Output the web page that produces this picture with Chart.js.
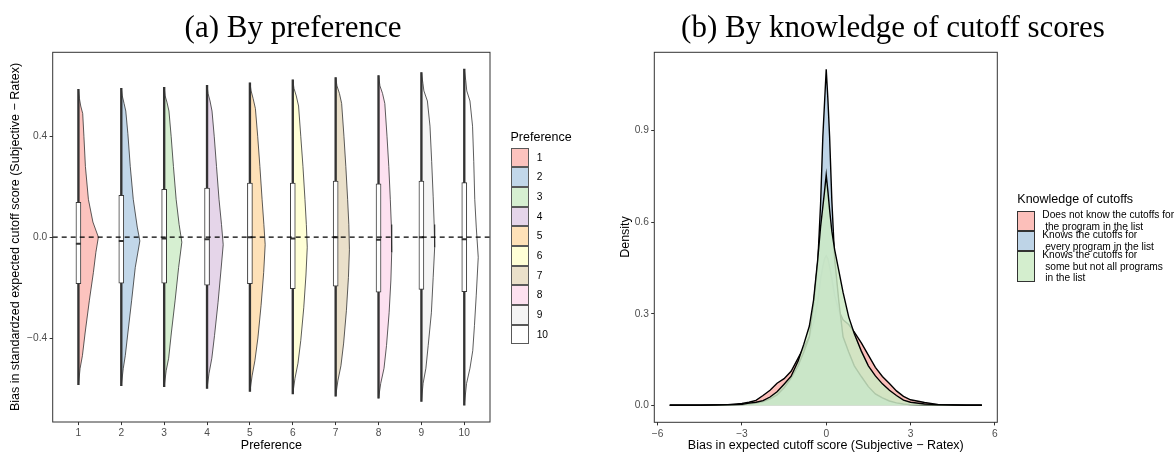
<!DOCTYPE html>
<html>
<head>
<meta charset="utf-8">
<script src="https://cdn.jsdelivr.net/npm/chart.js@4.4.1/dist/chart.umd.min.js"></script>
<style>
  body { margin: 0; background: #fff; }
  #wrap { position: relative; width: 1176px; height: 452px; overflow: hidden; font-family: "Liberation Sans", Arial, sans-serif; background: #fff; }
  canvas { position: absolute; top: 0; }
  .t { position: absolute; white-space: pre; color: #000; }
  .title { font-family: "Liberation Serif", "Times New Roman", serif; font-size: 31px; line-height: 31px; width: 600px; text-align: center; }
  .axt { font-size: 12.5px; line-height: 16px; text-align: center; }
  .lgt { font-size: 12.5px; line-height: 16px; }
  .lgl { font-size: 10.2px; }
  .sw { position: absolute; box-sizing: border-box; }
</style>
</head>
<body>
<div id="wrap">
  <canvas id="left" width="590" height="452" style="left:0px;width:590px;height:452px;"></canvas>
  <canvas id="right" width="586" height="452" style="left:590px;width:586px;height:452px;"></canvas>

  <div class="t title" style="left:-7px;top:10.7px;">(a) By preference</div>
  <div class="t title" style="left:593px;top:10.7px;">(b) By knowledge of cutoff scores</div>

  <div class="t axt" style="left:-185px;top:229px;width:400px;transform:rotate(-90deg);">Bias in standardzed expected cutoff score (Subjective − Ratex)</div>
  <div class="t axt" style="left:171.4px;top:437px;width:200px;">Preference</div>
  <div class="t axt" style="left:524.7px;top:229px;width:200px;transform:rotate(-90deg);">Density</div>
  <div class="t axt" style="left:525.8px;top:437px;width:600px;">Bias in expected cutoff score (Subjective − Ratex)</div>

  <div class="t lgt" style="left:510.5px;top:128.5px;">Preference</div>
  <div id="legLeft"></div>

  <div class="t lgt" style="left:1017.3px;top:191.3px;">Knowledge of cutoffs</div>
  <div id="legRight"></div>
</div>

<script>
// ---------------- Data: panel (a) ----------------
const prefCategories = [1, 2, 3, 4, 5, 6, 7, 8, 9, 10];
const leftYTicks = [-0.4, 0.0, 0.4];
const leftYTickLabels = ['\u22120.4', '0.0', '0.4'];

// Half-violin profiles: values (top -> bottom) and relative density at each value
const violinValues = [
  [0.586, 0.55, 0.52, 0.49, 0.40, 0.28, 0.15, 0.06, 0.0, -0.06, -0.14, -0.25, -0.38, -0.47, -0.52, -0.585],
  [0.590, 0.56, 0.53, 0.50, 0.41, 0.28, 0.15, 0.04, -0.015, -0.12, -0.25, -0.38, -0.47, -0.52, -0.589],
  [0.594, 0.56, 0.535, 0.50, 0.40, 0.28, 0.15, 0.05, -0.02, -0.12, -0.25, -0.38, -0.48, -0.53, -0.593],
  [0.602, 0.57, 0.54, 0.50, 0.40, 0.28, 0.15, 0.05, -0.03, -0.13, -0.26, -0.39, -0.48, -0.54, -0.600],
  [0.612, 0.58, 0.55, 0.51, 0.40, 0.28, 0.15, 0.05, -0.03, -0.14, -0.27, -0.40, -0.49, -0.55, -0.612],
  [0.624, 0.59, 0.56, 0.52, 0.40, 0.28, 0.15, 0.05, -0.04, -0.15, -0.28, -0.41, -0.50, -0.56, -0.622],
  [0.633, 0.60, 0.57, 0.53, 0.40, 0.28, 0.15, 0.05, -0.05, -0.16, -0.29, -0.42, -0.51, -0.57, -0.631],
  [0.641, 0.60, 0.57, 0.53, 0.40, 0.28, 0.15, 0.05, -0.06, -0.17, -0.30, -0.43, -0.52, -0.58, -0.639],
  [0.653, 0.61, 0.58, 0.54, 0.44, 0.30, 0.16, 0.05, -0.04, -0.16, -0.30, -0.43, -0.52, -0.58, -0.651],
  [0.666, 0.62, 0.58, 0.54, 0.44, 0.30, 0.15, 0.04, -0.08, -0.23, -0.35, -0.45, -0.52, -0.58, -0.666]
];
const violinDensity = [
  [0, 1.0, 2.3, 4.3, 5.5, 7.0, 10.0, 14.5, 20.0, 17.5, 15.0, 11.0, 6.7, 4.0, 1.7, 0],
  [0, 1.0, 2.8, 4.5, 6.6, 9.0, 12.0, 16.0, 18.6, 14.0, 10.4, 6.6, 4.0, 2.0, 0],
  [0, 1.0, 2.8, 4.8, 7.0, 9.3, 12.0, 15.0, 17.7, 14.5, 11.0, 7.2, 4.5, 2.0, 0],
  [0, 1.0, 3.0, 5.0, 7.2, 9.5, 12.0, 14.5, 16.2, 14.0, 11.0, 7.5, 4.8, 2.0, 0],
  [0, 1.2, 3.2, 5.5, 7.8, 10.0, 12.2, 14.0, 15.3, 13.8, 11.2, 8.0, 5.0, 2.2, 0],
  [0, 1.2, 3.5, 5.8, 8.0, 10.2, 12.2, 13.6, 14.5, 13.2, 11.0, 8.0, 5.2, 2.2, 0],
  [0, 1.3, 3.8, 6.0, 8.3, 10.2, 12.0, 13.2, 13.8, 12.8, 10.8, 8.0, 5.3, 2.2, 0],
  [0, 1.4, 4.0, 6.3, 8.5, 10.3, 11.8, 12.8, 13.2, 12.4, 10.6, 8.0, 5.5, 2.2, 0],
  [0, 1.5, 2.5, 6.0, 8.6, 10.3, 11.8, 12.8, 13.3, 11.8, 10.0, 6.8, 4.5, 1.7, 0],
  [0, 1.5, 2.5, 5.7, 8.3, 9.5, 10.5, 12.0, 14.0, 12.0, 10.2, 8.5, 5.7, 2.3, 0]
];
const boxQ3 = [0.138, 0.166, 0.190, 0.195, 0.214, 0.214, 0.222, 0.211, 0.222, 0.216];
const boxQ1 = [-0.184, -0.182, -0.182, -0.190, -0.184, -0.204, -0.194, -0.218, -0.207, -0.216];
const boxMedian = [-0.026, -0.015, -0.005, -0.008, 0.0, -0.005, 0.0, -0.010, 0.0, -0.008];

// ---------------- Data: panel (b) ----------------
const knowledgeGroups = [
  'Does not know the cutoffs for\n the program in the list',
  'Knows the cutoffs for\n every program in the list',
  'Knows the cutoffs for\n some but not all programs\n in the list'
];
const biasX = [-5.57, -5, -4.5, -4, -3.5, -3, -2.75, -2.5, -2.25, -2, -1.75, -1.5, -1.25, -1, -0.8, -0.6, -0.45, -0.3, -0.2, -0.12, -0.06, 0,
               0.06, 0.12, 0.2, 0.3, 0.45, 0.6, 0.8, 1, 1.25, 1.5, 1.75, 2, 2.25, 2.5, 2.75, 3, 3.5, 4, 4.5, 5, 5.54];
const densityNotKnow = [0.001, 0.001, 0.001, 0.002, 0.003, 0.007, 0.011, 0.017, 0.033, 0.050, 0.073, 0.088, 0.112, 0.155, 0.190, 0.225, 0.270, 0.340, 0.415, 0.455, 0.480, 0.490,
                        0.480, 0.455, 0.415, 0.360, 0.310, 0.280, 0.265, 0.240, 0.205, 0.165, 0.125, 0.095, 0.072, 0.048, 0.030, 0.019, 0.010, 0.003, 0.002, 0.001, 0.001];
const densityKnowsAll = [0.001, 0.001, 0.001, 0.001, 0.002, 0.003, 0.005, 0.008, 0.013, 0.022, 0.035, 0.058, 0.090, 0.130, 0.175, 0.225, 0.330, 0.470, 0.660, 0.880, 0.990, 1.099,
                         1.000, 0.880, 0.670, 0.480, 0.340, 0.225, 0.175, 0.130, 0.095, 0.062, 0.038, 0.025, 0.015, 0.009, 0.005, 0.003, 0.002, 0.001, 0.001, 0.001, 0.001];
const densityKnowsSome = [0.001, 0.001, 0.001, 0.002, 0.003, 0.004, 0.008, 0.011, 0.016, 0.028, 0.045, 0.070, 0.096, 0.146, 0.200, 0.260, 0.345, 0.480, 0.585, 0.650, 0.700, 0.754,
                          0.700, 0.640, 0.570, 0.510, 0.440, 0.370, 0.290, 0.235, 0.178, 0.130, 0.097, 0.071, 0.050, 0.033, 0.018, 0.011, 0.005, 0.003, 0.002, 0.001, 0.001];
const rightXTicks = [-6, -3, 0, 3, 6];
const rightXTickLabels = ['\u22126', '\u22123', '0', '3', '6'];
const rightYTicks = [0.0, 0.3, 0.6, 0.9];
const rightYTickLabels = ['0.0', '0.3', '0.6', '0.9'];

// ---------------- Styles ----------------
const prefColors = ['#FBB4AE', '#B3CDE3', '#CCEBC5', '#DECBE4', '#FED9A6', '#FFFFCC', '#E5D8BD', '#FDDAEC', '#F2F2F2', '#FFFFFF'];
const groupColors = ['#FBB4AE', '#B3CDE3', '#CCEBC5'];
function rgba(hex, a) {
  const n = parseInt(hex.slice(1), 16);
  return 'rgba(' + ((n >> 16) & 255) + ',' + ((n >> 8) & 255) + ',' + (n & 255) + ',' + a + ')';
}
const VIOLIN_SCALE = 1 / 42.96;   // category units per density unit
const FONT = '"Liberation Sans", Arial, sans-serif';
const TICK_FONT = { family: FONT, size: 10.2 };
const TICK_COLOR = '#4D4D4D';

const framePlugin = {
  id: 'frame',
  afterDraw(chart) {
    const { ctx, chartArea: a } = chart;
    ctx.save();
    ctx.strokeStyle = '#333333';
    ctx.lineWidth = 1;
    ctx.strokeRect(a.left, a.top, a.right - a.left, a.bottom - a.top);
    ctx.restore();
  }
};

function axisCommon(ticks, labels, fitKey, fitVal) {
  return {
    type: 'linear',
    offset: false,
    border: { display: false },
    grid: { offset: false, drawOnChartArea: false, drawTicks: true, tickLength: 3.1, color: '#333333', lineWidth: 1 },
    ticks: {
      font: TICK_FONT, color: TICK_COLOR, padding: 2.4, autoSkip: false, maxRotation: 0,
      callback: (v, i) => labels[i]
    },
    afterBuildTicks: (axis) => { axis.ticks = ticks.map(v => ({ value: v })); },
    afterFit: (axis) => { axis[fitKey] = fitVal; }
  };
}

// ---------------- Panel (a) ----------------
const LX_MIN = 0.4, LX_MAX = 10.6, LY_MIN = -0.733, LY_MAX = 0.733;
const leftDatasets = [];
prefCategories.forEach((cat, i) => {
  const vals = violinValues[i], dens = violinDensity[i];
  const pts = [{ x: cat, y: vals[0] }];
  vals.forEach((v, j) => pts.push({ x: cat + dens[j] * VIOLIN_SCALE, y: v }));
  pts.push({ x: cat, y: vals[vals.length - 1] });
  leftDatasets.push({
    type: 'line', data: pts, fill: 'shape',
    backgroundColor: rgba(prefColors[i], 0.8), borderColor: '#262626', borderWidth: 0.75,
    pointRadius: 0, tension: 0, order: 10
  });
});
leftDatasets.push({
  type: 'bar', grouped: false, order: 9,
  data: prefCategories.map((c, i) => ({ x: c, y: [violinValues[i][violinValues[i].length - 1], violinValues[i][0]] })),
  backgroundColor: '#333333', borderWidth: 0, barThickness: 1.7
});
leftDatasets.push({
  type: 'bar', grouped: false, order: 8,
  data: prefCategories.map((c, i) => ({ x: c, y: [boxQ1[i], boxQ3[i]] })),
  backgroundColor: '#FFFFFF', borderColor: '#3a3a3a', borderWidth: 1, borderSkipped: false, barThickness: 5
});
leftDatasets.push({
  type: 'line', showLine: false, order: 7,
  data: prefCategories.map((c, i) => ({ x: c, y: boxMedian[i] })),
  pointStyle: 'line', pointRadius: 2.5, pointBorderWidth: 2, pointBorderColor: '#333333', pointBackgroundColor: '#333333'
});
leftDatasets.push({
  type: 'line', order: 6, fill: false,
  data: [{ x: LX_MIN, y: 0 }, { x: LX_MAX, y: 0 }],
  borderColor: '#000000', borderWidth: 1.2, borderDash: [5, 4], pointRadius: 0
});

new Chart(document.getElementById('left'), {
  type: 'line',
  data: { datasets: leftDatasets },
  options: {
    responsive: false, animation: false, devicePixelRatio: 1,
    layout: { padding: { left: 0, top: 52.3, right: 100, bottom: 0 } },
    plugins: { legend: { display: false }, tooltip: { enabled: false } },
    scales: {
      x: Object.assign(axisCommon(prefCategories, prefCategories.map(String), 'height', 30), { min: LX_MIN, max: LX_MAX }),
      y: Object.assign(axisCommon(leftYTicks, leftYTickLabels, 'width', 52.7), { min: LY_MIN, max: LY_MAX, beginAtZero: false })
    }
  },
  plugins: [framePlugin]
});

// ---------------- Panel (b) ----------------
const densities = [densityNotKnow, densityKnowsAll, densityKnowsSome];
const rightDatasets = densities.map((dens, g) => ({
  type: 'line', order: 3 - g,
  data: biasX.map((x, i) => ({ x: x, y: dens[i] })),
  fill: 'origin', backgroundColor: rgba(groupColors[g], 0.85),
  borderColor: '#000000', borderWidth: 1.4, pointRadius: 0, tension: 0
}));

new Chart(document.getElementById('right'), {
  type: 'line',
  data: { datasets: rightDatasets },
  options: {
    responsive: false, animation: false, devicePixelRatio: 1,
    layout: { padding: { left: 0, top: 52.3, right: 178.7, bottom: 0 } },
    plugins: { legend: { display: false }, tooltip: { enabled: false } },
    scales: {
      x: Object.assign(axisCommon(rightXTicks, rightXTickLabels, 'height', 29.7), { min: -6.12, max: 6.09 }),
      y: Object.assign(axisCommon(rightYTicks, rightYTickLabels, 'width', 64.3), { min: -0.0546, max: 1.1546 })
    }
  },
  plugins: [framePlugin]
});

// ---------------- HTML legends ----------------
const legLeft = document.getElementById('legLeft');
const KEY_H = 19.65;
prefCategories.forEach((c, i) => {
  const top = 147.7 + i * KEY_H;
  const sw = document.createElement('div');
  sw.className = 'sw';
  sw.style.cssText = 'left:510.7px;top:' + top + 'px;width:18px;height:' + KEY_H + 'px;border:1.2px solid #595959;background:' + rgba(prefColors[i], 0.8) + ';';
  legLeft.appendChild(sw);
  const lb = document.createElement('div');
  lb.className = 't lgl';
  lb.style.cssText = 'left:536.7px;top:' + top + 'px;height:' + KEY_H + 'px;line-height:' + KEY_H + 'px;';
  lb.textContent = String(c);
  legLeft.appendChild(lb);
});

const legRight = document.getElementById('legRight');
const keyTops = [210.7, 230.9, 251.1];
const keyHeights = [20.2, 20.2, 31.0];
knowledgeGroups.forEach((label, g) => {
  const sw = document.createElement('div');
  sw.className = 'sw';
  sw.style.cssText = 'left:1017.3px;top:' + keyTops[g] + 'px;width:18px;height:' + keyHeights[g] + 'px;border:1.2px solid #333;background:' + rgba(groupColors[g], 0.85) + ';';
  legRight.appendChild(sw);
  const lines = label.split('\n').length;
  const lh = 11.7;
  const center = keyTops[g] + keyHeights[g] / 2;
  const lb = document.createElement('div');
  lb.className = 't lgl';
  lb.style.cssText = 'left:1042.3px;top:' + (center - lines * lh / 2) + 'px;line-height:' + lh + 'px;';
  lb.textContent = label;
  legRight.appendChild(lb);
});
</script>
</body>
</html>
